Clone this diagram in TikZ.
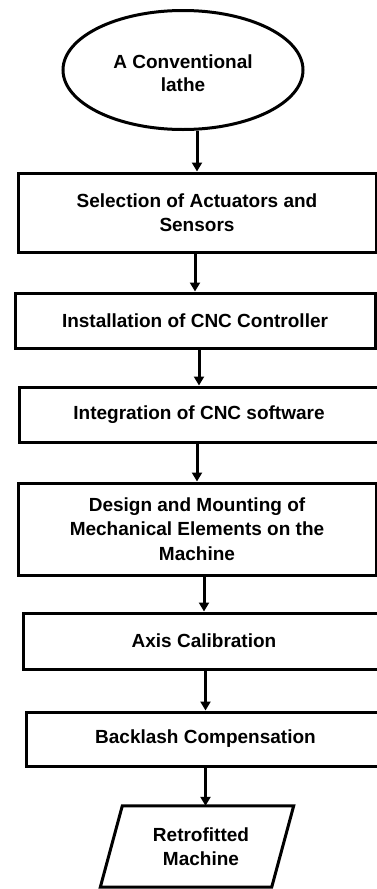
\documentclass[tikz,border=0pt]{standalone}
\usepackage{fontspec}
\setmainfont{Liberation Sans}
\usetikzlibrary{arrows.meta,shapes.geometric}

\tikzset{
  lbl/.style={font=\bfseries\fontsize{19}{24.5}\selectfont, align=center, text=black},
  stepbox/.style={lbl, draw=black, line width=3pt, rectangle, inner sep=0pt},
  startnode/.style={lbl, draw=black, line width=3pt, ellipse, inner sep=0pt},
  flow/.style={line width=3pt, -{Triangle[length=9pt,width=10pt]}},
  outline/.style={draw=black, line width=3pt, line join=miter}
}

\begin{document}
\begin{tikzpicture}[x=1pt,y=-1pt]
  \useasboundingbox[fill=white] (0,0) rectangle (377,889);

  % start terminal (text set a little below the centre)
  \node[startnode, minimum width=240pt, minimum height=119pt] (lathe) at (183,70)
    {\raisebox{-5pt}[\height][\depth]{\begin{tabular}{@{}c@{}}A Conventional\\[-2pt]lathe\end{tabular}}};

  % process steps
  \node[stepbox, minimum width=358pt, minimum height=79pt] (sel) at (197,212.5)
    {Selection of Actuators and\\Sensors};
  \node[stepbox, minimum width=360pt, minimum height=55pt] (inst) at (195,320.5)
    {Installation of CNC Controller};
  \node[stepbox, minimum width=360pt, minimum height=55pt] (integ) at (199,414.5)
    {Integration of CNC software};
  \node[stepbox, minimum width=358pt, minimum height=92pt] (design) at (197,529)
    {Design and Mounting of\\Mechanical Elements on the\\Machine};
  \node[stepbox, minimum width=362pt, minimum height=56pt] (axis) at (204,641)
    {Axis Calibration};
  \node[stepbox, minimum width=359pt, minimum height=54pt] (back) at (205.5,739)
    {Backlash Compensation};

  % output (parallelogram drawn around a plain text node)
  \node[lbl, inner sep=0pt, minimum width=193pt, minimum height=81pt] (out) at (197,846.5)
    {\hspace*{8pt}Retrofitted\\\hspace*{8pt}Machine};
  \draw[outline] (out.south west) -- ([xshift=22pt]out.north west)
    -- (out.north east) -- ([xshift=-22pt]out.south east) -- cycle;

  % connectors
  \draw[flow] (lathe.south -| sel.north) -- (sel.north);
  \draw[flow] (sel.south -| inst.north) -- (inst.north);
  \draw[flow] (inst.south -| integ.north) -- (integ.north);
  \draw[flow] (integ.south -| design.north) -- (design.north);
  \draw[flow] (design.south -| axis.north) -- (axis.north);
  \draw[flow] (axis.south -| back.north) -- (back.north);
  \draw[flow] (back.south) -- (back.south |- out.north);
\end{tikzpicture}
\end{document}
